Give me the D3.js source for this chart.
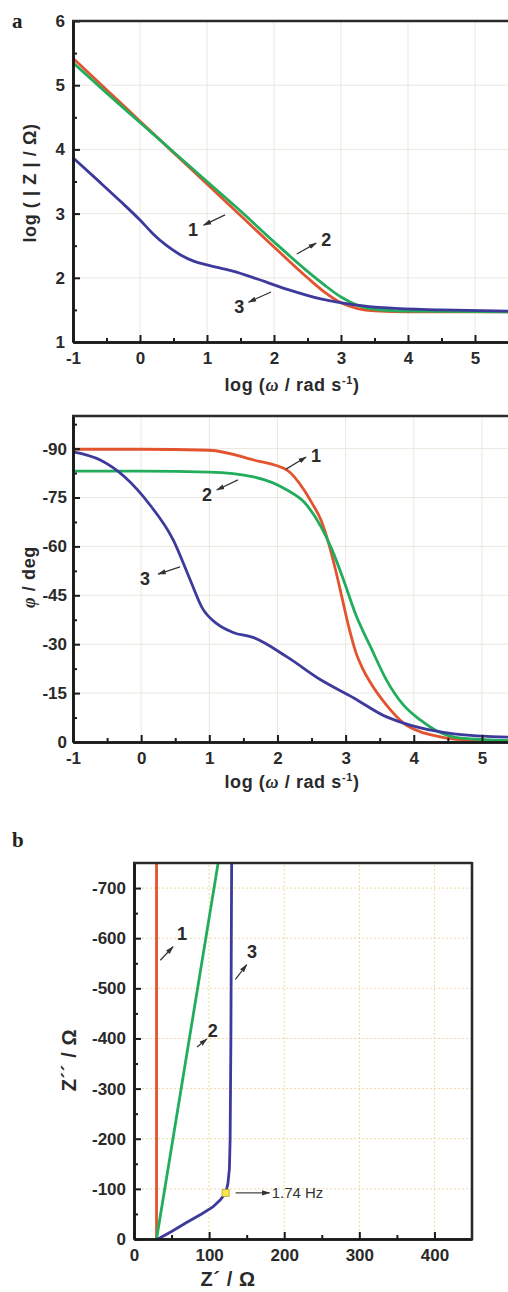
<!DOCTYPE html>
<html>
<head>
<meta charset="utf-8">
<script src="https://cdn.jsdelivr.net/npm/d3@7"></script>
<style>
  body { margin: 0; background: #fff; }
  svg { display: block; font-family: "Liberation Sans", Arial, sans-serif; }
</style>
</head>
<body>
<div id="chart"></div>
<script>
// Bode modulus: [log w, log |Z|]
const mag1 = [[-1,5.42],[-0.5,4.93],[0,4.44],[0.5,3.95],[1,3.46],[1.5,2.97],[2,2.48],[2.5,2.0],[2.75,1.78],[3,1.61],[3.25,1.52],[3.5,1.485],[4,1.47],[5.5,1.47]];
const mag2 = [[-1,5.35],[-0.5,4.88],[0,4.42],[0.5,3.96],[1,3.5],[1.5,3.04],[2,2.56],[2.5,2.1],[2.75,1.89],[3,1.7],[3.25,1.57],[3.5,1.51],[4,1.48],[5.5,1.47]];
const mag3 = [[-1,3.87],[-0.6,3.49],[-0.3,3.2],[0,2.9],[0.2,2.68],[0.4,2.5],[0.6,2.36],[0.8,2.26],[1,2.2],[1.2,2.15],[1.4,2.1],[1.7,2.0],[2.2,1.82],[2.7,1.67],[3.2,1.58],[3.7,1.53],[4.5,1.5],[5.5,1.48]];

// Bode phase: [log w, phase deg]
const ph1 = [[-1,-89.8],[0,-89.8],[1,-89.5],[1.65,-86.5],[2.14,-83.4],[2.39,-77.3],[2.5,-73.5],[2.64,-68],[2.75,-61],[2.85,-53],[2.95,-44],[3.05,-35],[3.15,-27.5],[3.25,-22.5],[3.37,-18],[3.6,-11.3],[3.85,-5.8],[4.1,-3.1],[4.34,-1.8],[4.7,-0.7],[5.5,-0.3]];
const ph2 = [[-1,-83.1],[0,-83.1],[1,-82.8],[1.65,-81.3],[2.14,-77.3],[2.39,-73.6],[2.64,-66],[2.8,-59],[2.97,-49.7],[3.15,-39],[3.37,-29],[3.6,-19],[3.85,-11.3],[4.1,-6.7],[4.34,-3.4],[4.7,-1.2],[5.5,-0.4]];
const ph3 = [[-1,-89],[-0.6,-86.5],[-0.24,-81.3],[0.13,-72.7],[0.47,-62],[0.72,-49.7],[0.9,-41],[1.11,-36.3],[1.35,-33.6],[1.65,-32],[2.14,-26.1],[2.64,-19],[3.12,-13.5],[3.6,-7.7],[3.85,-5.8],[4.1,-4.3],[4.59,-2.5],[5.5,-1.4]];

// Nyquist: [Z', Z'']
const nyq1 = [[30,0],[30,-750]];
const nyq2 = [[30,0],[112,-750]];
const nyq3 = [[32,0],[50,-15],[70,-33],[90,-50],[105,-64],[115,-78],[122,-92],[125,-110],[127,-140],[128,-200],[129,-400],[130,-750]];
const markerPoint = [122,-92];
const markerLabel = "1.74 Hz";

const colors = ["#e2532e", "#22ad5c", "#3d3a9c"];

const magTicks = [1,2,3,4,5,6];
const logwTicks = [-1,0,1,2,3,4,5];
const phTicks = [0,-15,-30,-45,-60,-75,-90];
const zrTicks = [0,100,200,300,400];
const ziTicks = [0,-100,-200,-300,-400,-500,-600,-700];

const W = 508, H = 1292;
const svg = d3.select("#chart").append("svg")
  .attr("width", W).attr("height", H);

svg.append("rect").attr("width", W).attr("height", H).attr("fill", "#fff");

const plain = d => String(d);

function panel(opt) {
  const g = svg.append("g");
  const x = opt.x, y = opt.y;
  const [x0, x1] = x.range(), [y0, y1] = y.range();
  const right = Math.min(x1, W);

  // grid
  g.selectAll(".gx").data(opt.gridX).enter().append("line")
    .attr("x1", d => x(d)).attr("x2", d => x(d))
    .attr("y1", y0).attr("y2", y1)
    .attr("stroke", opt.gridColor).attr("stroke-width", 1)
    .attr("stroke-dasharray", opt.gridDash || null);
  g.selectAll(".gy").data(opt.gridY).enter().append("line")
    .attr("x1", x0).attr("x2", right)
    .attr("y1", d => y(d)).attr("y2", d => y(d))
    .attr("stroke", opt.gridColor).attr("stroke-width", 1)
    .attr("stroke-dasharray", opt.gridDash || null);

  // curves
  const line = d3.line().x(d => x(d[0])).y(d => y(d[1])).curve(opt.curve || d3.curveMonotoneX);
  opt.series.forEach((s, i) => {
    g.append("path").datum(s)
      .attr("fill", "none")
      .attr("stroke", colors[i])
      .attr("stroke-width", 2.8)
      .attr("d", line);
  });

  // axes
  const bx = g.append("g").attr("transform", `translate(0,${y0})`)
    .call(d3.axisBottom(x).tickValues(opt.xTicks).tickFormat(plain).tickSizeInner(-7).tickSizeOuter(0).tickPadding(10));
  const bxm = g.append("g").attr("transform", `translate(0,${y0})`)
    .call(d3.axisBottom(x).tickValues(opt.xMinor).tickSizeInner(-4).tickSizeOuter(0).tickFormat(""));
  const ly = g.append("g").attr("transform", `translate(${x0},0)`)
    .call(d3.axisLeft(y).tickValues(opt.yTicks).tickFormat(plain).tickSizeInner(-7).tickSizeOuter(0).tickPadding(opt.yPad || 8));
  const lym = g.append("g").attr("transform", `translate(${x0},0)`)
    .call(d3.axisLeft(y).tickValues(opt.yMinor).tickSizeInner(-4).tickSizeOuter(0).tickFormat(""));

  [bx, bxm, ly, lym].forEach(a => {
    a.select(".domain").attr("stroke", "#1a1a1a").attr("stroke-width", 2.6);
    a.selectAll(".tick line").attr("stroke", "#1a1a1a").attr("stroke-width", 2);
    a.selectAll(".tick text").attr("font-size", 17).attr("font-weight", "bold")
      .attr("fill", "#2a2a2a").attr("font-family", "'Liberation Sans', Arial, sans-serif");
  });

  // top (and right) border
  g.append("line").attr("x1", x0 - 1).attr("x2", right).attr("y1", y1).attr("y2", y1)
    .attr("stroke", "#2a2a2a").attr("stroke-width", 2.6);
  if (opt.rightBorder) {
    g.append("line").attr("x1", x1).attr("x2", x1).attr("y1", y1 - 1).attr("y2", y0 + 1)
      .attr("stroke", "#2a2a2a").attr("stroke-width", 2.6);
  }
  return g;
}

// arrowhead
svg.append("defs").append("marker")
  .attr("id", "ah").attr("viewBox", "0 0 10 10")
  .attr("refX", 9).attr("refY", 5)
  .attr("markerWidth", 7).attr("markerHeight", 7)
  .attr("orient", "auto-start-reverse")
  .append("path").attr("d", "M0,2 L10,5 L0,8 Z").attr("fill", "#333");

function annotate(x, y, list) {
  list.forEach(a => {
    svg.append("line")
      .attr("x1", x(a.from[0])).attr("y1", y(a.from[1]))
      .attr("x2", x(a.to[0])).attr("y2", y(a.to[1]))
      .attr("stroke", "#333").attr("stroke-width", 1.2)
      .attr("marker-end", "url(#ah)");
    svg.append("text")
      .attr("x", x(a.at[0])).attr("y", y(a.at[1]))
      .attr("text-anchor", "middle").attr("dy", "0.36em")
      .attr("font-size", 18).attr("font-weight", "bold").attr("fill", "#2a2a2a")
      .text(a.label);
  });
}

// ---- panel a, modulus ----
const xA = d3.scaleLinear().domain([-1, 5.5]).range([73, 508.5]);
const yA = d3.scaleLinear().domain([1, 6]).range([342, 21]);
panel({
  x: xA, y: yA,
  series: [mag1, mag2, mag3],
  xTicks: logwTicks, xMinor: [-0.5,0.5,1.5,2.5,3.5,4.5],
  yTicks: magTicks, yMinor: [1.5,2.5,3.5,4.5,5.5],
  gridX: [0,1,2,3,4,5], gridY: [2,3,4,5],
  gridColor: "#ebe8e0"
});
annotate(xA, yA, [
  { label: "1", at: [0.79, 2.745], from: [1.27, 2.98], to: [0.95, 2.82] },
  { label: "2", at: [2.78, 2.59], from: [2.34, 2.37], to: [2.63, 2.54] },
  { label: "3", at: [1.48, 1.545], from: [1.955, 1.78], to: [1.62, 1.62] }
]);

// ---- panel a, phase ----
const xP = d3.scaleLinear().domain([-1, 5.5]).range([73, 516]);
const yP = d3.scaleLinear().domain([0, -100]).range([742, 416]);
panel({
  x: xP, y: yP,
  series: [ph1, ph2, ph3],
  xTicks: logwTicks, xMinor: [-0.5,0.5,1.5,2.5,3.5,4.5],
  yTicks: phTicks, yMinor: [-7.5,-22.5,-37.5,-52.5,-67.5,-82.5,-97.5],
  gridX: [0,1,2,3,4,5], gridY: [-15,-30,-45,-60,-75,-90],
  gridColor: "#ebe8e0", yPad: 6
});
annotate(xP, yP, [
  { label: "1", at: [2.566, -88.0], from: [2.125, -83.7], to: [2.42, -87.4] },
  { label: "2", at: [0.966, -75.8], from: [1.42, -80.4], to: [1.11, -77.3] },
  { label: "3", at: [0.057, -50.3], from: [0.57, -53.7], to: [0.25, -51.5] }
]);

// ---- panel b, Nyquist ----
const xN = d3.scaleLinear().domain([0, 450]).range([134, 472]);
const yN = d3.scaleLinear().domain([0, -750]).range([1239, 863]);
panel({
  x: xN, y: yN,
  series: [nyq1, nyq2, nyq3],
  curve: d3.curveLinear,
  xTicks: zrTicks, xMinor: [50,150,250,350],
  yTicks: ziTicks, yMinor: [-50,-150,-250,-350,-450,-550,-650],
  gridX: [100,200,300,400], gridY: [-100,-200,-300,-400,-500,-600,-700],
  gridColor: "#efd9a4", gridDash: "2,2", rightBorder: true
});
annotate(xN, yN, [
  { label: "1", at: [64, -610], from: [35, -556], to: [52, -583] },
  { label: "2", at: [105, -416], from: [84, -383], to: [97, -399] },
  { label: "3", at: [157, -573], from: [135, -518], to: [150, -547] }
]);

// 1.74 Hz marker
svg.append("rect")
  .attr("x", xN(markerPoint[0]) - 3.5).attr("y", yN(markerPoint[1]) - 3.5)
  .attr("width", 7).attr("height", 7)
  .attr("fill", "#f4e84a").attr("stroke", "#b8a830").attr("stroke-width", 0.8);
svg.append("line")
  .attr("x1", xN(markerPoint[0]) + 10).attr("x2", xN(markerPoint[0]) + 44)
  .attr("y1", yN(markerPoint[1])).attr("y2", yN(markerPoint[1]))
  .attr("stroke", "#444").attr("stroke-width", 1.2)
  .attr("marker-end", "url(#ah)");
svg.append("text")
  .attr("x", xN(markerPoint[0]) + 46).attr("y", yN(markerPoint[1]))
  .attr("dy", "0.36em").attr("font-size", 15).attr("fill", "#333")
  .text(markerLabel);

// ---- titles ----
const titleFont = 18;
function xTitle(cx, cy) {
  const t = svg.append("text").attr("x", cx).attr("y", cy)
    .attr("text-anchor", "middle").attr("font-size", titleFont).attr("font-weight", "bold")
    .attr("letter-spacing", 0.6).attr("fill", "#2a2a2a");
  t.append("tspan").text("log (");
  t.append("tspan").attr("font-style", "italic").attr("font-family", "'Liberation Serif', serif").text("ω");
  t.append("tspan").text(" / rad s");
  t.append("tspan").attr("font-size", 11).attr("dy", -7).text("-1");
  t.append("tspan").attr("dy", 7).text(")");
}
xTitle(292, 391);
xTitle(292, 788);

svg.append("text")
  .attr("transform", "translate(36,183) rotate(-90)")
  .attr("text-anchor", "middle").attr("font-size", titleFont).attr("font-weight", "bold")
  .attr("letter-spacing", 0.6).attr("fill", "#2a2a2a")
  .text("log ( | Z | / Ω)");

const phT = svg.append("text")
  .attr("transform", "translate(35,577) rotate(-90)")
  .attr("text-anchor", "middle").attr("font-size", titleFont).attr("font-weight", "bold")
  .attr("letter-spacing", 0.6).attr("fill", "#2a2a2a");
phT.append("tspan").attr("font-style", "italic").attr("font-family", "'Liberation Serif', serif").text("φ");
phT.append("tspan").text(" / deg");

svg.append("text")
  .attr("transform", "translate(76,1060) rotate(-90)")
  .attr("text-anchor", "middle").attr("font-size", 20).attr("font-weight", "bold")
  .attr("letter-spacing", 0.6).attr("fill", "#2a2a2a")
  .text("Z´´ / Ω");

svg.append("text")
  .attr("x", 228).attr("y", 1286)
  .attr("text-anchor", "middle").attr("font-size", 20).attr("font-weight", "bold")
  .attr("letter-spacing", 0.6).attr("fill", "#2a2a2a")
  .text("Z´ / Ω");

// panel letters
svg.append("text").attr("x", 12).attr("y", 28)
  .attr("font-family", "'Liberation Serif', 'Times New Roman', serif")
  .attr("font-size", 21).attr("font-weight", "bold").attr("fill", "#222").text("a");
svg.append("text").attr("x", 12).attr("y", 847)
  .attr("font-family", "'Liberation Serif', 'Times New Roman', serif")
  .attr("font-size", 21).attr("font-weight", "bold").attr("fill", "#222").text("b");
</script>
</body>
</html>
